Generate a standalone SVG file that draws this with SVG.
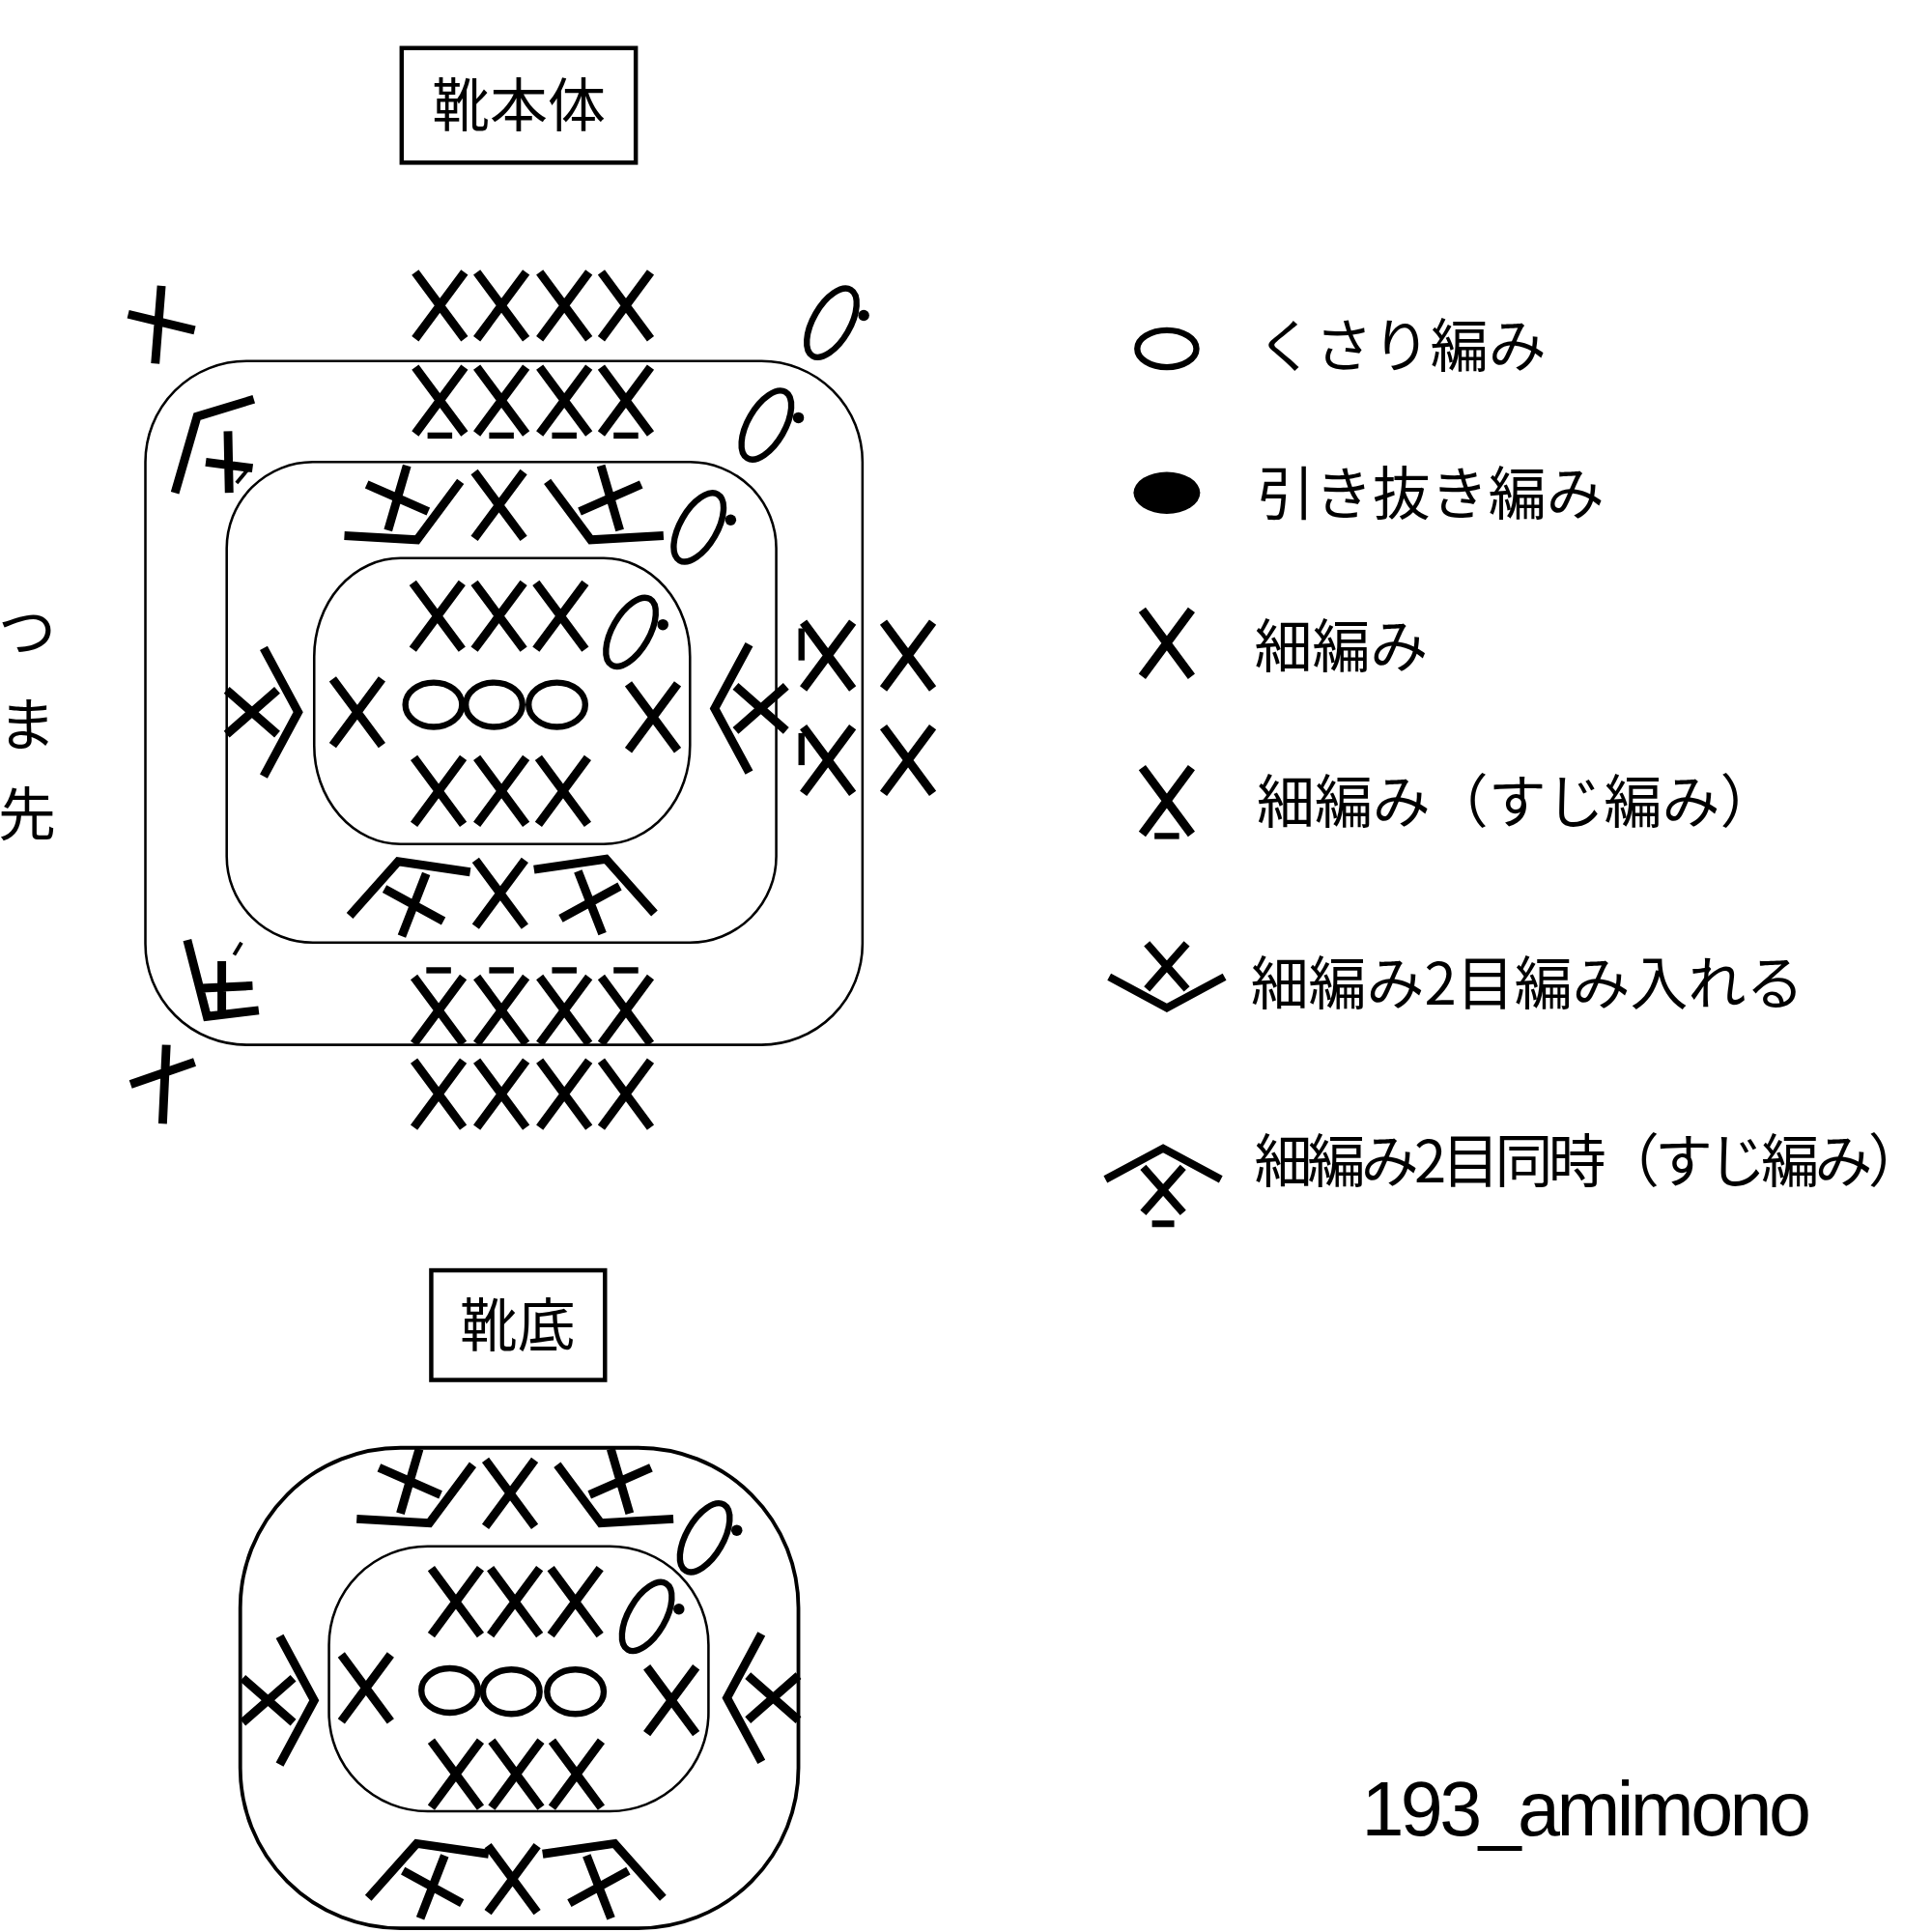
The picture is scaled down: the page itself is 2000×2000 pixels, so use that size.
<svg xmlns="http://www.w3.org/2000/svg" width="2000" height="2000" viewBox="0 0 2000 2000">
<style>
.s{fill:none;stroke:#000;stroke-width:7}
.b{fill:none;stroke:#000;stroke-width:2}
.c{fill:none;stroke:#000;stroke-width:5}
.t{font-family:"Noto Sans CJK JP","Liberation Sans",sans-serif;font-size:47px;fill:#000}
</style>
<defs>
<g id="x"><path class="s" d="M-20,-27 L20,27 M20,-27 L-20,27"/></g>
<g id="xf"><use href="#x"/><rect x="-10" y="26" width="20" height="5"/></g>
<g id="xb"><use href="#x"/><rect x="-10" y="-35" width="20" height="5"/></g>
<g id="inc"><path class="s" d="M-52,-8 L0,20 L52,-8"/><path class="s" d="M-18,-38 L18,3 M18,-38 L-18,3"/></g>
<g id="dec"><path class="s" d="M-52,8 L0,-20 L52,8"/><path class="s" d="M-18,-3 L18,38 M18,-3 L-18,38"/></g>
<g id="ch"><ellipse class="c" rx="15" ry="31" transform="rotate(30)"/><circle cx="26" cy="-6" r="4.5"/></g>
<g id="o"><ellipse class="c" rx="23" ry="18"/></g>
</defs>
<g transform="scale(1.2755)">
<g id="title1"><rect x="326" y="39" width="190" height="93" fill="none" stroke="#000" stroke-width="3.5"/><text class="t" x="421" y="103" text-anchor="middle">靴本体</text></g>
<g id="title2"><rect x="350" y="1031" width="141" height="89" fill="none" stroke="#000" stroke-width="3.5"/><text class="t" x="420" y="1093" text-anchor="middle">靴底</text></g>

<g id="toe"><text class="t" x="22" y="530" text-anchor="middle">つ</text><text class="t" x="22" y="605" text-anchor="middle">ま</text><text class="t" x="22" y="678" text-anchor="middle">先</text></g>

<g id="body">
<rect class="b" x="118" y="293" width="582" height="555" rx="82"/>
<rect class="b" x="184" y="375" width="446" height="390" rx="70"/>
<rect class="b" x="255" y="453" width="305" height="232" rx="70" ry="80"/>
<use href="#x" x="357" y="248"/><use href="#x" x="407" y="248"/><use href="#x" x="458" y="248"/><use href="#x" x="508" y="248"/>
<use href="#xf" x="357" y="325"/><use href="#xf" x="407" y="325"/><use href="#xf" x="458" y="325"/><use href="#xf" x="508" y="325"/>
<use href="#inc" transform="translate(330,420) rotate(-25)"/>
<use href="#x" x="405" y="410"/>
<use href="#inc" transform="translate(488,420) rotate(25)"/>
<use href="#ch" x="675" y="262"/><use href="#ch" x="622" y="345"/><use href="#ch" x="567" y="428"/><use href="#ch" x="512" y="513"/>
<use href="#x" x="355" y="500"/><use href="#x" x="405" y="500"/><use href="#x" x="455" y="500"/>
<use href="#o" x="352" y="572"/><use href="#o" x="401" y="572"/><use href="#o" x="452" y="572"/>
<use href="#x" x="290" y="578"/><use href="#x" x="530" y="582"/>
<use href="#x" x="356" y="642"/><use href="#x" x="407" y="642"/><use href="#x" x="457" y="642"/>
<use href="#inc" transform="translate(222,578) rotate(-90)"/>
<use href="#dec" transform="translate(600,575) rotate(-90)"/>
<use href="#dec" transform="translate(330,718) rotate(-20)"/>
<use href="#x" x="406" y="725"/>
<use href="#dec" transform="translate(485,716) rotate(20)"/>
<use href="#xb" x="356" y="820"/><use href="#xb" x="407" y="820"/><use href="#xb" x="458" y="820"/><use href="#xb" x="508" y="820"/>
<use href="#x" x="356" y="888"/><use href="#x" x="407" y="888"/><use href="#x" x="458" y="888"/><use href="#x" x="508" y="888"/>
<use href="#x" x="672" y="532"/><use href="#x" x="737" y="532"/><use href="#x" x="672" y="617"/><use href="#x" x="737" y="617"/>
<rect x="648" y="510" width="5" height="26"/><rect x="648" y="595" width="5" height="26"/>
<path class="s" d="M131,232 L126,295 M104,255 L158,268"/>
<path class="s" d="M135,848 L132,912 M106,880 L158,862"/>
<path class="s" d="M206,324 L160,338 L142,400 M167,375 L205,380 M185,350 L186,400"/>
<path class="s" style="stroke-width:3" d="M192,392 L202,380"/>
<path class="s" d="M152,763 L168,825 L210,820 M164,802 L205,800 M180,780 L180,823"/>
<path class="s" style="stroke-width:3" d="M190,775 L196,765"/>
</g>

<g id="sole">
<rect class="b" x="195" y="1175" width="453" height="390" rx="130" style="stroke-width:3"/>
<rect class="b" x="267" y="1255" width="308" height="215" rx="80"/>
<use href="#inc" transform="translate(340,1218) rotate(-25)"/>
<use href="#x" x="414" y="1212"/>
<use href="#inc" transform="translate(496,1218) rotate(25)"/>
<use href="#ch" x="572" y="1248"/><use href="#ch" x="525" y="1312"/>
<use href="#x" x="370" y="1300"/><use href="#x" x="418" y="1300"/><use href="#x" x="467" y="1300"/>
<use href="#o" x="365" y="1372"/><use href="#o" x="415" y="1373"/><use href="#o" x="467" y="1373"/>
<use href="#x" x="297" y="1370"/><use href="#x" x="545" y="1380"/>
<use href="#x" x="370" y="1440"/><use href="#x" x="419" y="1440"/><use href="#x" x="468" y="1440"/>
<use href="#inc" transform="translate(235,1380) rotate(-90)"/>
<use href="#dec" transform="translate(610,1378) rotate(-90)"/>
<use href="#dec" transform="translate(345,1515) rotate(-20)"/>
<use href="#x" x="416" y="1525"/>
<use href="#dec" transform="translate(492,1515) rotate(20)"/>
</g>

<g id="legend">
<ellipse class="c" cx="947" cy="283" rx="24" ry="15"/>
<ellipse cx="947" cy="400" rx="27" ry="17"/>
<use href="#x" x="947" y="522"/>
<use href="#xf" x="947" y="650"/>
<g transform="translate(947,800) scale(0.9)"><use href="#inc"/></g>
<g transform="translate(944,950) scale(0.9)"><use href="#dec"/><rect x="-10" y="45" width="20" height="6"/></g>
<text class="t" x="1020" y="298">くさり編み</text>
<text class="t" x="1020" y="418">引き抜き編み</text>
<text class="t" x="1018" y="542">細編み</text>
<text class="t" x="1020" y="668">細編み（すじ編み）</text>
<text class="t" x="1015" y="815">細編み2目編み入れる</text>
<text class="t" x="1018" y="960" textLength="545">細編み2目同時（すじ編み）</text>
</g>
<text x="1105" y="1490" textLength="365" style="font-family:'Liberation Sans',sans-serif;font-size:62px">193_amimono</text>
</g>
</svg>
